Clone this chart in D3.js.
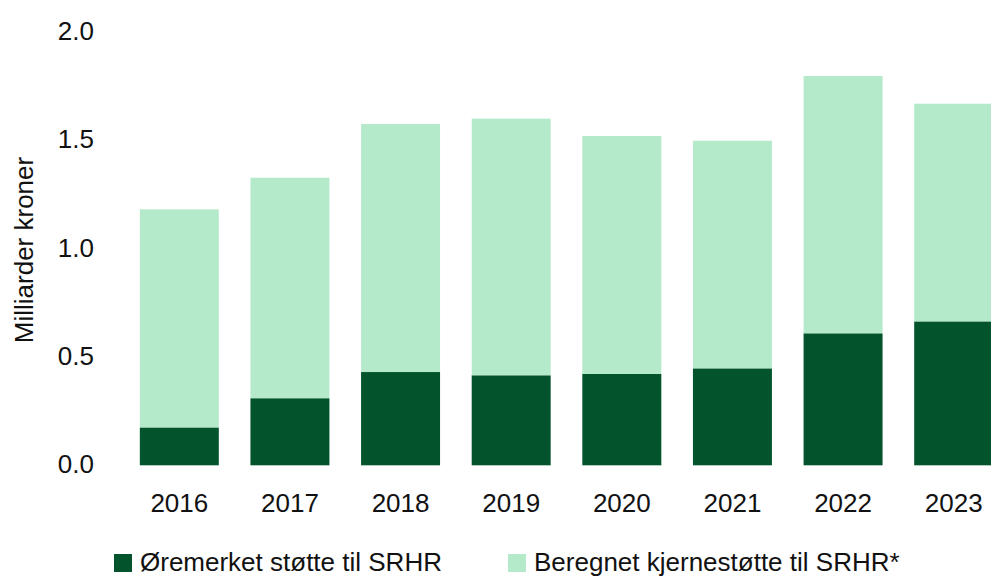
<!DOCTYPE html>
<html lang="no">
  <head>
    <meta charset="utf-8">
    <title>Støtte til SRHR</title>
    <style>
      body { margin: 0; background: #fff; }
      svg text { font-family: "Liberation Sans", Arial, sans-serif; fill: #111; }
    </style>
  </head>
  <body>
    <svg></svg>
    <script src="https://d3js.org/d3.v7.min.js"></script>
    <script type="text/javascript">
      // values, milliarder kroner
      var years = ["2016", "2017", "2018", "2019", "2020", "2021", "2022", "2023"];
      var oremerket = [0.175, 0.310, 0.431, 0.416, 0.422, 0.448, 0.610, 0.665];
      var kjernestotte = [1.008, 1.019, 1.146, 1.186, 1.100, 1.052, 1.189, 1.006];
      var seriesNames = ["Øremerket støtte til SRHR", "Beregnet kjernestøtte til SRHR*"];
      var seriesColors = ["#03542d", "#b4eaca"];
      var yTicks = [0, 0.5, 1, 1.5, 2];

      var width = 991;
      var height = 577;

      var svg = d3.select("svg")
            .attr("width", width)
            .attr("height", height);

      var x = d3.scaleBand()
            .domain(years)
            .range([124, 1009])
            .paddingInner(0.286)
            .paddingOuter(0.143);

      var y = d3.scaleLinear()
            .domain([0, 2])
            .range([465.3, 32.5]);

      var rows = years.map(function(yr, i) {
        return {year: yr, a: oremerket[i], b: kjernestotte[i]};
      });
      var stack = d3.stack().keys(["a", "b"])(rows);

      svg.append("g")
        .selectAll("g")
        .data(stack)
        .enter()
        .append("g")
        .attr("fill", function(d, i) { return seriesColors[i]; })
        .selectAll("rect")
        .data(function(d) { return d; })
        .enter()
        .append("rect")
        .attr("x", function(d) { return x(d.data.year); })
        .attr("width", x.bandwidth())
        .attr("y", function(d) { return y(d[1]); })
        .attr("height", function(d) { return y(d[0]) - y(d[1]); });

      // y axis, labels only
      var yAxis = svg.append("g")
            .attr("transform", "translate(100,0)")
            .call(d3.axisLeft(y).tickValues(yTicks).tickFormat(d3.format(".1f")).tickSize(0).tickPadding(6));
      yAxis.select(".domain").remove();
      yAxis.selectAll("text")
           .attr("dy", "0.28em")
           .style("font-size", "26px")
           .style("font-family", null);

      // x axis, labels only
      var xAxis = svg.append("g")
            .attr("transform", "translate(0," + y(0) + ")")
            .call(d3.axisBottom(x).tickSize(0).tickPadding(28));
      xAxis.select(".domain").remove();
      xAxis.selectAll("text")
           .style("font-size", "26px")
           .style("font-family", null);

      svg.append("text")
         .attr("transform", "translate(33,250) rotate(-90)")
         .attr("text-anchor", "middle")
         .style("font-size", "26px")
         .text("Milliarder kroner");

      // legend (kept a little higher so descenders are not clipped)
      var legendX = [114, 508];
      var legend = svg.selectAll(".legend")
            .data(seriesNames)
            .enter()
            .append("g")
            .attr("class", "legend")
            .attr("transform", function(d, i) { return "translate(" + legendX[i] + ",554)"; });

      legend.append("rect")
            .attr("width", 18)
            .attr("height", 18)
            .attr("fill", function(d, i) { return seriesColors[i]; });

      legend.append("text")
            .attr("x", 26)
            .attr("y", 17)
            .style("font-size", "26px")
            .text(function(d) { return d; });
    </script>
  </body>
</html>
